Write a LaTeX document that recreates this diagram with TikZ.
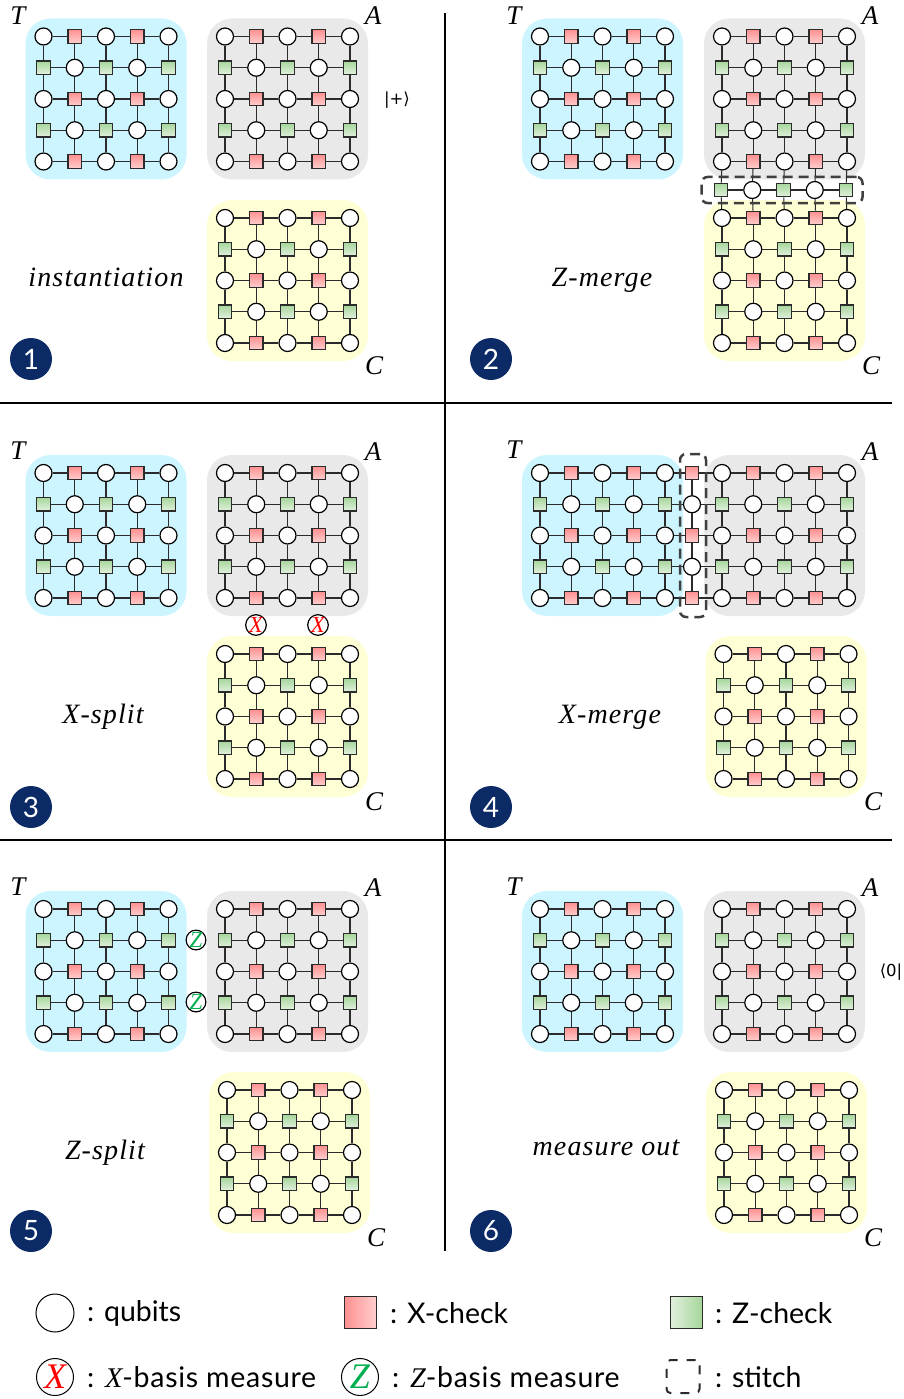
\documentclass[tikz,border=0pt]{standalone}
\usepackage{fontspec}
\setmainfont{Lato}
\newfontfamily\widefont[LetterSpace=2.5]{Lato}
\newfontfamily\labelfont[LetterSpace=4]{Liberation Serif}
\newfontfamily\mathsfont{Liberation Serif}
\newfontfamily\symbfont{DejaVu Sans}
\usetikzlibrary{shapes.geometric}
\definecolor{navy}{HTML}{0B2A66}
\definecolor{tbg}{HTML}{CCF5FF}
\definecolor{abg}{HTML}{E9E9E9}
\definecolor{cbg}{HTML}{FFFFD5}
\definecolor{edgec}{HTML}{2B2B2B}
\definecolor{zgreen}{HTML}{00B050}
\definecolor{xtop}{HTML}{FF9090}
\definecolor{xbot}{HTML}{FFCFCF}
\definecolor{ztop}{HTML}{A6D69C}
\definecolor{zbot}{HTML}{E2F1DD}
\tikzset{
  qubit/.style={circle,draw=black,fill=white,line width=1.2pt,minimum size=17pt,inner sep=0pt},
  xcheck/.style={rectangle,draw=edgec,line width=1.2pt,top color=xtop,bottom color=xbot,minimum size=13.5pt,inner sep=0pt},
  zcheck/.style={rectangle,draw=edgec,line width=1.2pt,top color=ztop,bottom color=zbot,minimum size=13.5pt,inner sep=0pt},
  edge/.style={draw=edgec,line width=1.05pt},
  panelbg/.style={rectangle,rounded corners=25pt,minimum size=161pt,inner sep=0pt,draw=none},
  stitchbox/.style={rectangle,draw=edgec!90,dashed,dash pattern=on 10pt off 6pt,line width=2.5pt,rounded corners=6pt,inner sep=0pt},
  measx/.style={circle,draw=black,fill=white,line width=1.2pt,minimum size=17pt,inner sep=0pt,text=red,font=\mathsfont\itshape\fontsize{23}{23}\selectfont},
  measz/.style={circle,draw=black,fill=white,line width=1.2pt,minimum size=17pt,inner sep=0pt,text=zgreen,font=\mathsfont\itshape\fontsize{23}{23}\selectfont},
  letter/.style={font=\mathsfont\itshape\fontsize{27}{27}\selectfont,inner sep=0pt},
  oplabel/.style={anchor=base,font=\labelfont\itshape\fontsize{28}{28}\selectfont,inner sep=0pt},
  numdot/.style={circle,fill=navy,minimum size=42pt,inner sep=0pt,text=white,font=\fontsize{28}{28}\selectfont},
  legend/.style={anchor=west,inner sep=0pt,font=\fontsize{28.5}{28.5}\selectfont},
  divider/.style={draw=black,line width=1.5pt},
  ket/.style={font=\symbfont\fontsize{16.5}{16.5}\selectfont,inner sep=0pt},
}
% node kind by row and column parity
\newcommand{\qkind}[2]{%
  \pgfmathtruncatemacro{\qa}{mod(#1+#2,2)}%
  \pgfmathtruncatemacro{\qb}{mod(#1,2)}%
  \ifnum\qa=0 \def\qstyle{qubit}\else\ifnum\qb=0 \def\qstyle{xcheck}\else\def\qstyle{zcheck}\fi\fi}
% \qgrid{name}{x of first qubit}{y of first qubit}{background colour}
\newcommand{\qgrid}[4]{%
  \node[panelbg,fill=#4] (#1-bg) at ({#2+62.5},{#3+62.5}) {};
  \foreach \r in {0,...,4}{\foreach \c in {0,...,4}{%
    \qkind{\r}{\c}%
    \node[\qstyle] (#1-\r-\c) at ({#2+31.25*\c},{#3+31.25*\r}) {};
  }}
  \foreach \r in {0,...,4}{\foreach \c in {0,...,3}{%
    \pgfmathtruncatemacro{\n}{\c+1}%
    \draw[edge] (#1-\r-\c) -- (#1-\r-\n);
    \draw[edge] (#1-\c-\r) -- (#1-\n-\r);
  }}
}
\begin{document}
\begin{tikzpicture}[x=1pt,y=-1pt]
\useasboundingbox (0,0) rectangle (904,1399);
\coordinate (vt) at (445,13); \coordinate (vb) at (445,1251);
\coordinate (h1l) at (0,403); \coordinate (h1r) at (892,403);
\coordinate (h2l) at (0,840); \coordinate (h2r) at (892,840);
\draw[divider] (vt) -- (vb);
\draw[divider] (h1l) -- (h1r);
\draw[divider] (h2l) -- (h2r);

% panel 1
\qgrid{aT}{43.5}{36.5}{tbg}
\qgrid{aA}{225}{36.5}{abg}
\qgrid{aC}{225}{218}{cbg}
\node[letter] (aTl) at (18,16) {T};
\node[letter] (aAl) at (373,16) {A};
\node[letter] (aCl) at (374,366) {C};
\node[ket] (plus) at (397,100) {|+⟩};
\node[oplabel] (aop) at (106,286) {instantiation};
\node[numdot] (n1) at (31,359) {1};

% panel 2
\qgrid{bC}{722}{218}{cbg}
\qgrid{bT}{540}{36.5}{tbg}
\qgrid{bA}{722}{36.5}{abg}
\foreach \c/\k in {0/zcheck,1/qubit,2/zcheck,3/qubit,4/zcheck}{
  \node[\k] (bS-\c) at ({721+31.25*\c},190) {};
  \draw[edge] (bA-4-\c) -- (bS-\c);
  \draw[edge] (bS-\c) -- (bC-0-\c);
}
\foreach \c in {0,...,3}{\pgfmathtruncatemacro{\n}{\c+1}\draw[edge] (bS-\c) -- (bS-\n);}
\node[stitchbox,minimum width=161pt,minimum height=26pt] (bbox) at (782,190) {};
\node[letter] (bTl) at (514,16) {T};
\node[letter] (bAl) at (870,16) {A};
\node[letter] (bCl) at (871,366) {C};
\node[oplabel] (bop) at (602,286) {Z-merge};
\node[numdot] (n2) at (491,359) {2};

% panel 3
\qgrid{cT}{43.5}{473}{tbg}
\qgrid{cA}{225}{473}{abg}
\qgrid{cC}{225}{654}{cbg}
\node[measx] (cm1) at (256,625) {X};
\node[measx] (cm2) at (318,625) {X};
\node[letter] (cTl) at (18,451) {T};
\node[letter] (cAl) at (373,452) {A};
\node[letter] (cCl) at (374,802) {C};
\node[oplabel] (cop) at (103,723) {X-split};
\node[numdot] (n3) at (31,807) {3};

% panel 4
\qgrid{dT}{540}{473}{tbg}
\qgrid{dA}{722}{473}{abg}
\qgrid{dC}{723.5}{654}{cbg}
\foreach \r/\k in {0/xcheck,1/qubit,2/xcheck,3/qubit,4/xcheck}{
  \node[\k] (dS-\r) at (692,{473+31.25*\r}) {};
  \draw[edge] (dT-\r-4) -- (dS-\r);
  \draw[edge] (dS-\r) -- (dA-\r-0);
}
\foreach \r in {0,...,3}{\pgfmathtruncatemacro{\n}{\r+1}\draw[edge] (dS-\r) -- (dS-\n);}
\node[stitchbox,minimum width=26pt,minimum height=163pt] (dbox) at (693,535.5) {};
\node[letter] (dTl) at (514,450) {T};
\node[letter] (dAl) at (870,452) {A};
\node[letter] (dCl) at (873,802) {C};
\node[oplabel] (dop) at (610,723) {X-merge};
\node[numdot] (n4) at (491,807) {4};

% panel 5
\qgrid{eT}{43.5}{909}{tbg}
\qgrid{eA}{225}{909}{abg}
\qgrid{eC}{227}{1090}{cbg}
\node[measz] (em1) at (196,940) {Z};
\node[measz] (em2) at (196,1002) {Z};
\node[letter] (eTl) at (18,887) {T};
\node[letter] (eAl) at (373,888) {A};
\node[letter] (eCl) at (376,1238) {C};
\node[oplabel] (eop) at (105,1159) {Z-split};
\node[numdot] (n5) at (31,1231) {5};

% panel 6
\qgrid{fT}{540}{909}{tbg}
\qgrid{fA}{722}{909}{abg}
\qgrid{fC}{724}{1090}{cbg}
\node[ket] (zero) at (891,972) {⟨0|};
\node[letter] (fTl) at (514,887) {T};
\node[letter] (fAl) at (870,888) {A};
\node[letter] (fCl) at (873,1238) {C};
\node[oplabel] (fop) at (606,1155) {measure out};
\node[numdot] (n6) at (491,1231) {6};

% legend
\node[circle,draw=black,fill=white,line width=1pt,minimum size=38pt,inner sep=0pt] (lq) at (55,1313) {};
\node[legend] (lqt) at (87,1313) {: qubits};
\node[rectangle,draw=edgec,line width=1pt,left color=xtop,right color=xbot,minimum size=32pt,inner sep=0pt] (lx) at (360.5,1312) {};
\node[legend] (lxt) at (390,1313) {: X-check};
\node[rectangle,draw=edgec,line width=1pt,left color=zbot,right color=ztop,minimum size=32pt,inner sep=0pt] (lz) at (686,1312) {};
\node[legend] (lzt) at (715,1313) {: Z-check};
\node[circle,draw=black,fill=white,line width=1pt,minimum size=37pt,inner sep=0pt,text=red,font=\mathsfont\itshape\fontsize{36}{36}\selectfont] (lmx) at (55,1377) {X};
\node[legend] (lmxt) at (87,1377) {\widefont : {\mathsfont\itshape X}-basis measure};
\node[circle,draw=black,fill=white,line width=1pt,minimum size=37pt,inner sep=0pt,text=zgreen,font=\mathsfont\itshape\fontsize{36}{36}\selectfont] (lmz) at (360,1377) {Z};
\node[legend] (lmzt) at (392,1377) {\widefont : {\mathsfont\itshape Z}-basis measure};
\node[rectangle,draw=edgec,dash pattern=on 9pt off 9pt,line width=2pt,rounded corners=4pt,minimum width=33pt,minimum height=33pt,inner sep=0pt] (ls) at (683,1376.5) {};
\node[legend] (lst) at (715,1377) {: stitch};
\end{tikzpicture}
\end{document}
